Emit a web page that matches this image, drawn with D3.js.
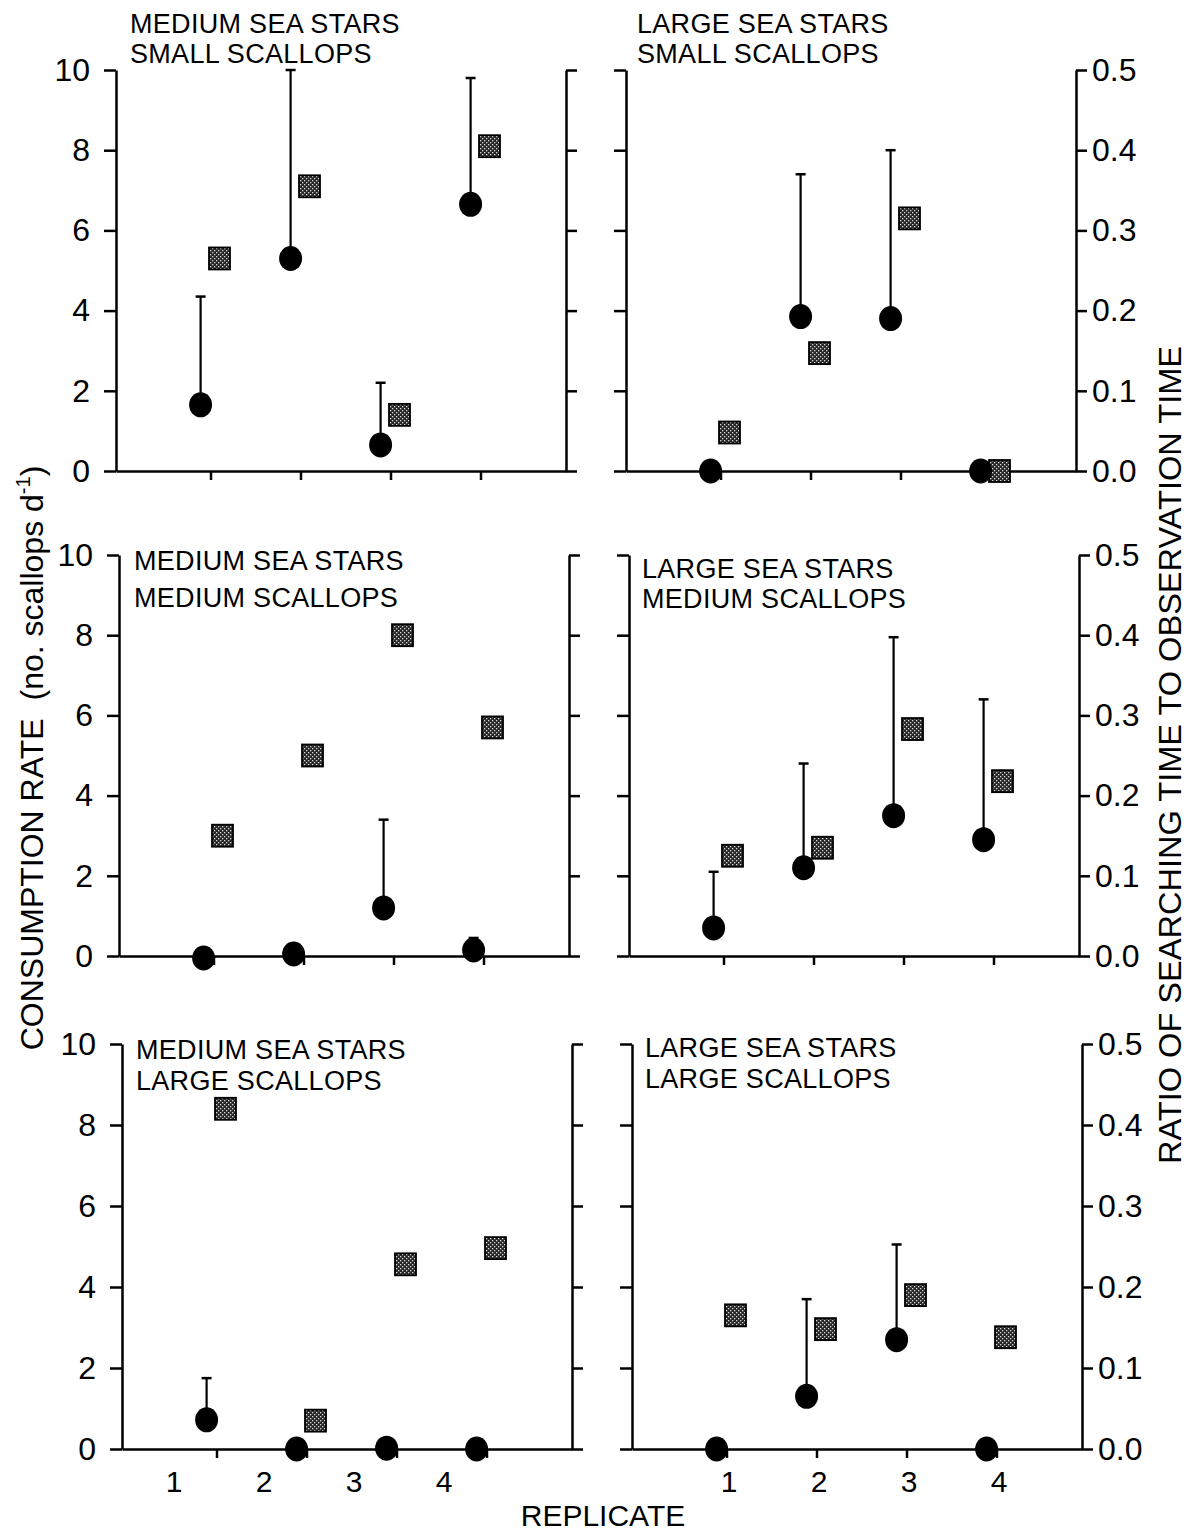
<!DOCTYPE html>
<html>
<head>
<meta charset="utf-8">
<script src="https://cdn.jsdelivr.net/npm/d3@7"></script>
<style>
  body { margin: 0; background: #fff; }
  text { font-family: "Liberation Sans", Arial, Helvetica, sans-serif; fill: #000; }
  .axis path, .axis line { stroke: #000; stroke-width: 2.5; }
</style>
</head>
<body>
<svg id="chart" width="1196" height="1535"></svg>
<script>
var replicates = [1, 2, 3, 4];
var seaStarSizes = ["MEDIUM SEA STARS", "LARGE SEA STARS"];
var scallopSizes = ["SMALL SCALLOPS", "MEDIUM SCALLOPS", "LARGE SCALLOPS"];
var rateTicks = [0, 2, 4, 6, 8, 10];
var ratioTicks = [0, 0.1, 0.2, 0.3, 0.4, 0.5];

// consumption rate (mean), top of error bar, ratio searching/observation
var rateMedSmall  = [1.65, 5.3, 0.65, 6.65];
var errMedSmall   = [4.35, 10.0, 2.2, 9.8];
var ratioMedSmall = [0.265, 0.355, 0.07, 0.405];

var rateLrgSmall  = [0, 3.85, 3.8, 0];
var errLrgSmall   = [null, 7.4, 8.0, null];
var ratioLrgSmall = [0.048, 0.147, 0.315, 0];

var rateMedMed  = [-0.05, 0.05, 1.2, 0.15];
var errMedMed   = [null, 0.3, 3.4, 0.45];
var ratioMedMed = [0.15, 0.25, 0.40, 0.285];

var rateLrgMed  = [0.7, 2.2, 3.5, 2.9];
var errLrgMed   = [2.1, 4.8, 7.95, 6.4];
var ratioLrgMed = [0.125, 0.135, 0.283, 0.218];

var rateMedLrg  = [0.72, 0, 0.02, 0];
var errMedLrg   = [1.75, null, null, null];
var ratioMedLrg = [0.42, 0.035, 0.228, 0.248];

var rateLrgLrg  = [0, 1.3, 2.7, 0];
var errLrgLrg   = [null, 3.7, 5.05, null];
var ratioLrgLrg = [0.165, 0.148, 0.19, 0.138];

var panels = [
  {row: 0, col: 0, rate: rateMedSmall, err: errMedSmall, ratio: ratioMedSmall},
  {row: 0, col: 1, rate: rateLrgSmall, err: errLrgSmall, ratio: ratioLrgSmall},
  {row: 1, col: 0, rate: rateMedMed, err: errMedMed, ratio: ratioMedMed},
  {row: 1, col: 1, rate: rateLrgMed, err: errLrgMed, ratio: ratioLrgMed},
  {row: 2, col: 0, rate: rateMedLrg, err: errMedLrg, ratio: ratioMedLrg},
  {row: 2, col: 1, rate: rateLrgLrg, err: errLrgLrg, ratio: ratioLrgLrg}
];

// layout
var colLeft = [116, 626];
var panelW = 450;
var rowTop = [70, 555, 1044];
var rowBottom = [471, 956, 1449];
var rowShift = [0, 3, 6];
var titlePos = [
  [[130, 33, 63], [637, 33, 63]],
  [[134, 570, 607], [642, 578, 608]],
  [[136, 1059, 1090], [645, 1057, 1088]]
];
var dotOffset = -0.11, squareOffset = 0.1;
var labelShift = [-0.47, 0.03];

var svg = d3.select('#chart');

var defs = svg.append('defs');
var pat = defs.append('pattern')
  .attr('id', 'stipple')
  .attr('patternUnits', 'userSpaceOnUse')
  .attr('width', 4).attr('height', 4);
pat.append('rect').attr('width', 4).attr('height', 4).attr('fill', '#262626');
pat.append('rect').attr('x', 0).attr('y', 0).attr('width', 1.3).attr('height', 1.3).attr('fill', '#d8d8d8');
pat.append('rect').attr('x', 2).attr('y', 2).attr('width', 1.3).attr('height', 1.3).attr('fill', '#d8d8d8');

panels.forEach(function (p) {
  var left = colLeft[p.col] + rowShift[p.row];
  var x = d3.scaleLinear().domain([-0.05, 4.95]).range([left, left + panelW]);
  var yRate = d3.scaleLinear().domain([0, 10]).range([rowBottom[p.row], rowTop[p.row]]);
  var yRatio = d3.scaleLinear().domain([0, 0.5]).range([rowBottom[p.row], rowTop[p.row]]);
  var g = svg.append('g');

  // left axis
  var leftAxis = d3.axisLeft(yRate).tickValues(rateTicks).tickSize(12).tickSizeOuter(0).tickPadding(14);
  if (p.col === 1) leftAxis.tickFormat('');
  g.append('g').attr('class', 'axis')
    .attr('transform', 'translate(' + left + ',0)')
    .call(leftAxis)
    .call(function (a) { a.selectAll('text').style('font-size', '32px'); });

  // right axis
  var rightAxis = p.col === 1
    ? d3.axisRight(yRatio).tickValues(ratioTicks).tickFormat(d3.format('.1f'))
    : d3.axisRight(yRate).tickValues(rateTicks).tickFormat('');
  rightAxis.tickSize(11).tickSizeOuter(0).tickPadding(5);
  g.append('g').attr('class', 'axis')
    .attr('transform', 'translate(' + (left + panelW) + ',0)')
    .call(rightAxis)
    .call(function (a) { a.selectAll('text').style('font-size', '32px'); });

  // bottom axis
  g.append('g').attr('class', 'axis')
    .attr('transform', 'translate(0,' + rowBottom[p.row] + ')')
    .call(d3.axisBottom(x).tickValues(replicates).tickSize(9).tickSizeOuter(0).tickFormat(''));

  g.selectAll('.domain').attr('fill', 'none');

  // replicate labels on the bottom row
  if (p.row === 2) {
    g.selectAll('.rep')
      .data(replicates)
      .enter().append('text')
      .attr('x', d => x(d + labelShift[p.col]))
      .attr('y', rowBottom[p.row] + 43)
      .attr('text-anchor', 'middle')
      .style('font-size', '30px')
      .text(d => d);
  }

  // titles
  var tp = titlePos[p.row][p.col];
  g.append('text').attr('x', tp[0]).attr('y', tp[1])
    .style('font-size', '27px').style('letter-spacing', '0.3px')
    .text(seaStarSizes[p.col]);
  g.append('text').attr('x', tp[0]).attr('y', tp[2])
    .style('font-size', '27px').style('letter-spacing', '0.3px')
    .text(scallopSizes[p.row]);

  var pts = replicates.map(function (r, i) {
    return {r: r, rate: p.rate[i], err: p.err[i], ratio: p.ratio[i]};
  });

  // squares: ratio
  g.selectAll('.sq')
    .data(pts)
    .enter().append('rect')
    .attr('x', d => x(d.r + squareOffset) - 10.5)
    .attr('y', d => yRatio(d.ratio) - 11)
    .attr('width', 21).attr('height', 22)
    .attr('fill', 'url(#stipple)')
    .attr('stroke', '#000').attr('stroke-width', 1.8);

  // error bars
  var eb = pts.filter(d => d.err !== null);
  g.selectAll('.eb')
    .data(eb)
    .enter().append('line')
    .attr('x1', d => x(d.r + dotOffset)).attr('x2', d => x(d.r + dotOffset))
    .attr('y1', d => yRate(d.rate)).attr('y2', d => yRate(d.err))
    .attr('stroke', '#000').attr('stroke-width', 2.2);
  g.selectAll('.cap')
    .data(eb)
    .enter().append('line')
    .attr('x1', d => x(d.r + dotOffset) - 5).attr('x2', d => x(d.r + dotOffset) + 5)
    .attr('y1', d => yRate(d.err)).attr('y2', d => yRate(d.err))
    .attr('stroke', '#000').attr('stroke-width', 2.5);

  // circles: consumption rate
  g.selectAll('.dot')
    .data(pts)
    .enter().append('ellipse')
    .attr('cx', d => x(d.r + dotOffset))
    .attr('cy', d => yRate(d.rate))
    .attr('rx', 11.5).attr('ry', 12.5)
    .attr('fill', '#000');
});

// axis titles
svg.append('text')
  .attr('transform', 'translate(43,758) rotate(-90)')
  .attr('text-anchor', 'middle')
  .style('font-size', '32px')
  .call(function (t) {
    t.append('tspan').text('CONSUMPTION RATE');
    t.append('tspan').attr('dx', 18).text('(no. scallops d');
    t.append('tspan').attr('dy', -13).style('font-size', '20px').text('-1');
    t.append('tspan').attr('dy', 13).text(')');
  });

svg.append('text')
  .attr('transform', 'translate(1181,755) rotate(-90)')
  .attr('text-anchor', 'middle')
  .attr('textLength', 818)
  .attr('lengthAdjust', 'spacingAndGlyphs')
  .style('font-size', '31px')
  .text('RATIO OF SEARCHING TIME TO OBSERVATION TIME');

svg.append('text')
  .attr('x', 603).attr('y', 1526)
  .attr('text-anchor', 'middle')
  .style('font-size', '30px')
  .text('REPLICATE');
</script>
</body>
</html>
